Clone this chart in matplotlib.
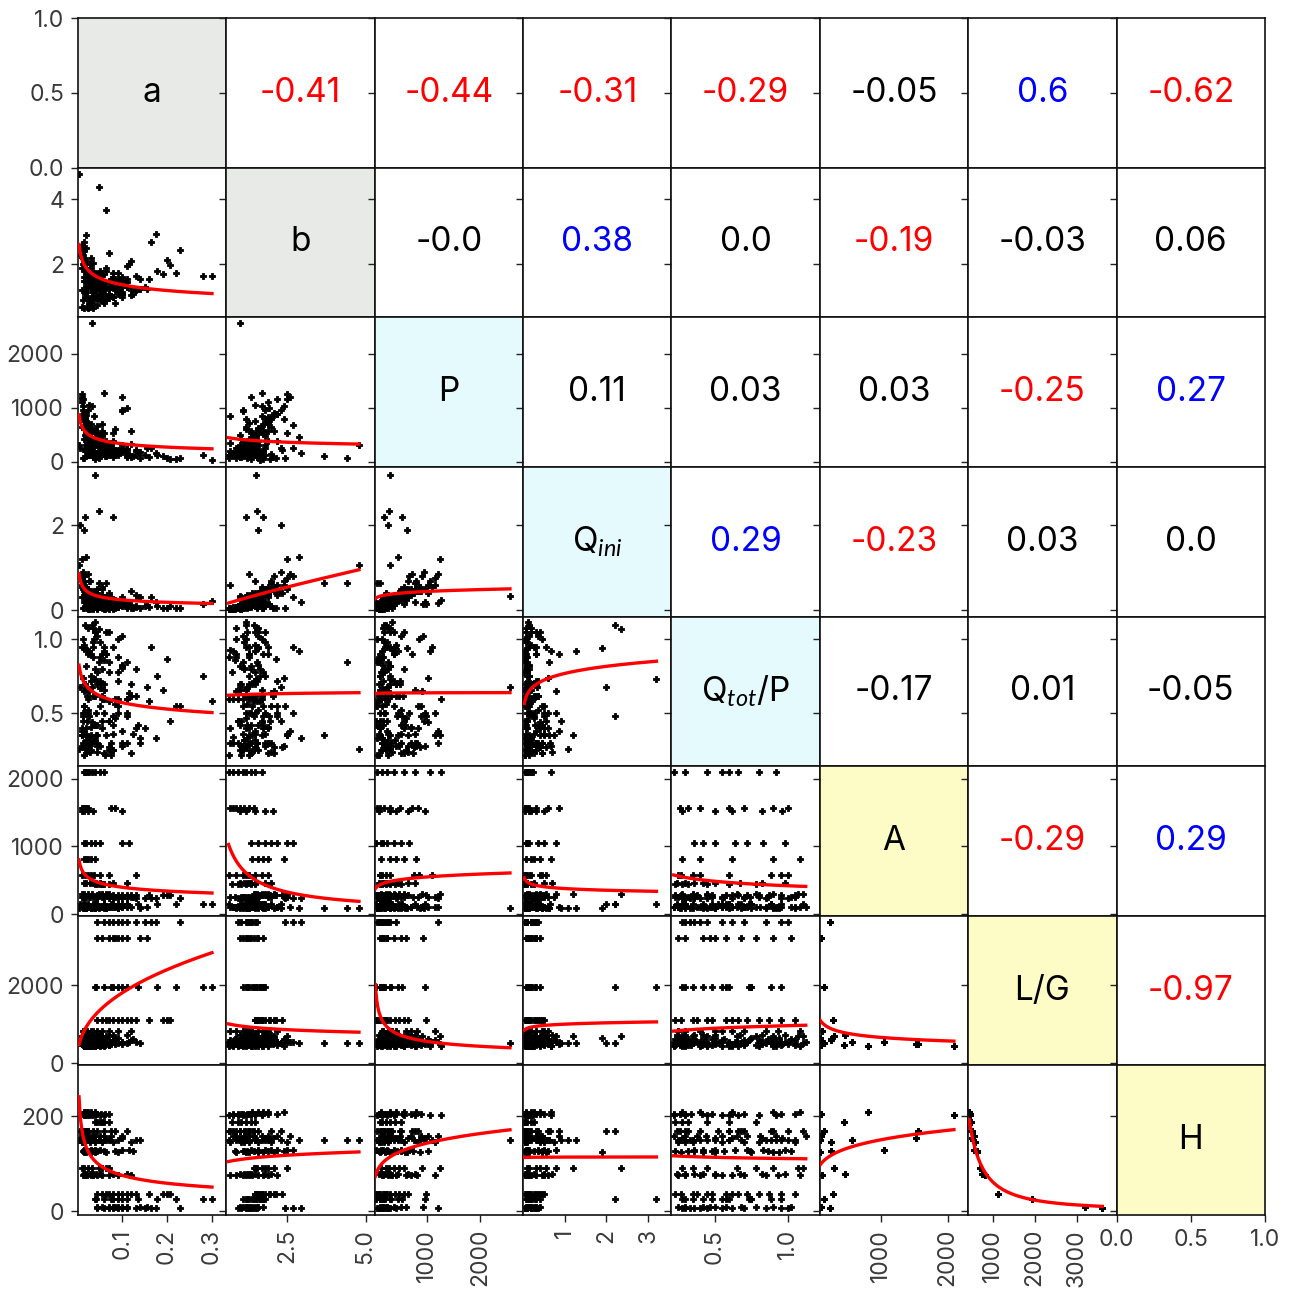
import numpy as np
import matplotlib
matplotlib.use('Agg')
import matplotlib.pyplot as plt

plt.rcParams['font.family'] = ['Inter', 'DejaVu Sans']
plt.rcParams['mathtext.fontset'] = 'custom'
plt.rcParams['mathtext.rm'] = 'Inter'
plt.rcParams['mathtext.it'] = 'Lato:italic'

names = ['a', 'b', 'P', r'Q$_{ini}$', r'Q$_{tot}$/P', 'A', 'L/G', 'H']

# catchment attributes (A, L/G, H) and number of events per catchment
catch_A = [235, 100, 150, 276, 111, 300, 460, 90, 100, 570, 450,
           810, 1045, 1560, 2095, 100, 145, 250, 246, 85, 1525]
catch_LG = [3609, 3210, 1949, 1124, 830, 700, 740, 530, 550, 545, 480,
            445, 560, 490, 455, 470, 520, 590, 620, 640, 510]
catch_H = [6, 8, 25, 37, 77, 91, 79, 150, 158, 149, 187,
           209, 130, 168, 202, 205, 168, 145, 126, 125, 154]
catch_n = [12, 10, 13, 14, 10, 8, 8, 11, 10, 8, 6, 5, 7, 7, 8, 10, 8, 7, 8, 6, 5]

# event values, grouped by catchment (same order as above)
a_vals = [
    0.043, 0.06, 0.07, 0.08, 0.09, 0.10, 0.11, 0.13, 0.15, 0.165, 0.175, 0.228,
    0.043, 0.055, 0.07, 0.08, 0.085, 0.09, 0.10, 0.11, 0.14, 0.155,
    0.039, 0.042, 0.06, 0.075, 0.08, 0.09, 0.1, 0.11, 0.135, 0.178, 0.22, 0.28, 0.3,
    0.045, 0.055, 0.065, 0.07, 0.08, 0.09, 0.1, 0.11, 0.12, 0.13, 0.16, 0.2, 0.206, 0.19,
    0.012, 0.018, 0.022, 0.03, 0.035, 0.045, 0.055, 0.07, 0.09, 0.12,
    0.01, 0.016, 0.025, 0.033, 0.048, 0.055, 0.065, 0.07,
    0.014, 0.02, 0.028, 0.035, 0.042, 0.05, 0.08, 0.11,
    0.004, 0.048, 0.065, 0.02, 0.033, 0.012, 0.03, 0.04, 0.06, 0.09, 0.14,
    0.01, 0.015, 0.02, 0.026, 0.033, 0.04, 0.05, 0.06, 0.075, 0.1,
    0.011, 0.018, 0.024, 0.03, 0.038, 0.05, 0.07, 0.13,
    0.04, 0.045, 0.05, 0.055, 0.06, 0.07,
    0.015, 0.02, 0.025, 0.03, 0.04,
    0.015, 0.02, 0.03, 0.04, 0.05, 0.1, 0.115,
    0.01, 0.013, 0.017, 0.02, 0.025, 0.075, 0.085,
    0.015, 0.018, 0.022, 0.027, 0.032, 0.04, 0.05, 0.06,
    0.013, 0.017, 0.021, 0.026, 0.031, 0.036, 0.043, 0.052, 0.062, 0.07,
    0.006, 0.018, 0.012, 0.024, 0.035, 0.045, 0.06, 0.11,
    0.01, 0.016, 0.028, 0.04, 0.055, 0.08, 0.12,
    0.012, 0.019, 0.027, 0.034, 0.045, 0.06, 0.085, 0.125,
    0.014, 0.02, 0.03, 0.04, 0.065, 0.09,
    0.011, 0.016, 0.023, 0.035, 0.1,
]
b_vals = [
    1.05, 1.4, 0.95, 1.5, 1.2, 1.35, 1.55, 1.25, 1.3, 2.7, 2.95, 2.45,
    1.6, 1.3, 1.45, 1.0, 1.2, 1.75, 1.1, 1.35, 1.55, 1.25,
    1.52, 1.4, 1.2, 1.55, 1.75, 1.3, 1.1, 1.45, 1.25, 1.8, 1.75, 1.65, 1.65,
    1.7, 1.5, 1.8, 2.35, 1.6, 1.55, 1.5, 1.95, 2.1, 1.65, 1.55, 2.15, 1.97, 1.7,
    2.2, 1.9, 0.7, 1.6, 0.9, 1.3, 1.75, 1.1, 1.4, 1.2,
    2.5, 2.1, 1.8, 1.45, 1.55, 1.7, 1.9, 1.5,
    1.8, 1.35, 2.0, 1.15, 1.5, 1.25, 1.0, 1.3,
    4.79, 4.4, 3.68, 2.9, 1.02, 2.3, 1.8, 1.5, 1.3, 1.1, 1.25,
    2.6, 2.2, 1.9, 0.9, 1.7, 1.2, 1.45, 0.8, 1.3, 1.15,
    1.9, 1.5, 0.65, 1.3, 1.7, 0.9, 1.1, 1.2,
    1.5, 0.75, 1.2, 0.95, 1.35, 1.05,
    2.4, 1.9, 1.6, 1.75, 1.4,
    2.7, 2.5, 2.2, 1.35, 1.8, 1.6, 2.0,
    0.7, 0.9, 1.0, 1.15, 1.3, 1.45, 0.8,
    0.65, 1.2, 0.95, 1.5, 0.8, 1.35, 1.1, 1.7,
    2.2, 1.1, 1.7, 0.8, 1.9, 1.3, 0.95, 1.5, 1.05, 1.25,
    2.3, 1.2, 2.0, 1.6, 0.65, 1.4, 1.0, 1.3,
    2.5, 2.0, 0.7, 1.6, 1.15, 1.3, 1.05,
    2.4, 1.9, 1.45, 1.15, 1.6, 0.85, 1.25, 1.1,
    1.6, 2.1, 1.3, 1.75, 0.9, 1.2,
    1.2, 1.5, 1.8, 2.05, 1.0,
]
P_vals = [
    420, 310, 180, 260, 150, 1200, 90, 210, 120, 250, 160, 60,
    520, 380, 240, 150, 600, 200, 930, 110, 180, 250,
    298, 450, 210, 330, 530, 180, 960, 140, 180, 120, 40, 120, 30,
    650, 480, 300, 220, 390, 170, 250, 990, 560, 200, 90, 60, 50, 110,
    1150, 820, 350, 600, 180, 420, 700, 260, 150, 330,
    1250, 900, 480, 230, 280, 560, 380, 140,
    780, 300, 640, 200, 450, 160, 90, 240,
    311, 60, 112, 447, 2560, 950, 520, 380, 200, 130, 60,
    1200, 880, 700, 260, 1020, 340, 500, 150, 270, 190,
    1100, 760, 120, 300, 850, 160, 230, 120,
    400, 150, 300, 220, 520, 120,
    790, 560, 300, 140, 420,
    670, 520, 380, 40, 250, 180, 140,
    840, 60, 500, 200, 720, 300, 120,
    60, 780, 250, 1050, 150, 570, 380, 1260,
    880, 230, 540, 120, 700, 310, 160, 410, 100, 190,
    260, 200, 780, 520, 130, 340, 170, 240,
    1150, 830, 200, 560, 260, 140, 90,
    1020, 740, 430, 270, 510, 140, 220, 100,
    630, 860, 310, 580, 120, 210,
    640, 420, 960, 90, 300,
]
Qini_vals = [
    0.3, 0.22, 0.1, 0.25, 0.08, 0.18, 0.05, 0.35, 0.1, 0.3, 0.2, 0.05,
    0.4, 0.3, 0.2, 0.06, 0.25, 0.1, 0.15, 0.2, 0.3, 0.12,
    3.2, 0.4, 0.15, 0.3, 2.2, 0.1, 0.2, 0.12, 0.28, 0.1, 0.06, 0.15, 0.22,
    0.5, 0.35, 0.2, 0.4, 0.25, 0.12, 0.3, 0.15, 0.45, 0.1, 0.08, 0.05, 0.1, 0.06,
    0.6, 0.45, 0.05, 0.3, 0.08, 0.18, 0.5, 0.1, 0.15, 0.12,
    1.2, 0.8, 0.4, 0.15, 2.35, 0.55, 0.3, 0.1,
    0.5, 0.1, 0.7, 0.06, 0.25, 0.08, 0.04, 0.1,
    1.07, 0.63, 0.63, 1.26, 0.33, 0.9, 0.45, 0.3, 0.15, 0.08, 0.05,
    0.85, 0.45, 0.35, 0.06, 0.4, 0.12, 0.3, 0.05, 0.15, 0.1,
    0.55, 0.4, 0.03, 0.15, 0.45, 0.07, 0.2, 0.08,
    0.2, 0.03, 0.1, 0.05, 0.25, 0.04,
    0.68, 0.4, 0.2, 0.06, 0.25,
    0.8, 0.5, 0.35, 0.08, 0.1, 0.15, 0.1,
    0.6, 0.05, 0.3, 0.1, 0.85, 0.15, 0.05,
    0.05, 0.2, 0.1, 0.68, 0.08, 0.15, 0.12, 0.23,
    0.5, 0.08, 0.3, 0.03, 0.4, 0.12, 0.05, 0.22, 0.04, 0.07,
    2.0, 2.2, 0.65, 0.35, 0.03, 0.2, 0.06, 0.1,
    0.75, 0.5, 0.04, 0.4, 0.1, 0.08, 0.05,
    0.6, 0.45, 0.25, 0.1, 0.35, 0.04, 0.12, 0.06,
    1.9, 0.55, 0.15, 0.45, 0.05, 0.1,
    0.3, 0.2, 0.5, 0.05, 0.15,
]
QtotP_vals = [
    0.28, 0.7, 0.45, 0.36, 1.0, 0.3, 0.85, 0.62, 0.4, 0.95, 0.33, 0.55,
    0.42, 0.9, 0.58, 0.25, 0.47, 0.78, 1.02, 0.5, 0.3, 0.68,
    0.73, 0.35, 0.95, 0.3, 0.48, 0.88, 0.28, 0.6, 0.42, 0.75, 0.55, 0.75, 0.58,
    0.35, 0.62, 1.05, 0.27, 0.95, 0.72, 0.38, 0.48, 0.23, 0.8, 0.58, 0.87, 0.45, 0.66,
    0.5, 0.3, 0.93, 0.25, 1.08, 0.7, 0.4, 0.85, 0.55, 0.62,
    0.35, 0.65, 0.28, 1.1, 1.07, 0.45, 0.9, 0.78,
    0.36, 0.82, 0.24, 0.98, 0.5, 0.67, 0.42, 0.3,
    0.26, 0.85, 0.35, 0.92, 0.68, 0.45, 0.3, 1.05, 0.5, 0.6, 0.33,
    0.38, 0.55, 0.3, 0.65, 0.44, 1.12, 0.72, 0.92, 0.22, 0.81,
    0.95, 0.27, 0.6, 0.35, 1.0, 0.88, 0.25, 0.4,
    0.32, 0.78, 0.28, 0.6, 0.23, 0.45,
    0.28, 0.4, 1.08, 0.9, 0.62,
    0.5, 0.36, 0.72, 0.42, 0.98, 0.83, 0.64,
    0.4, 1.0, 0.7, 0.32, 0.9, 0.26, 0.6,
    0.22, 0.66, 0.45, 0.92, 0.3, 0.8, 0.55, 0.6,
    0.48, 0.26, 0.62, 0.34, 0.41, 0.95, 0.3, 0.7, 0.22, 1.05,
    0.68, 1.1, 0.3, 0.52, 0.88, 0.24, 0.66, 0.6,
    0.35, 0.55, 0.3, 1.05, 0.8, 0.25, 0.7,
    0.74, 0.23, 0.48, 0.32, 1.02, 0.86, 0.56, 0.36,
    0.94, 0.27, 0.75, 0.42, 0.9, 0.5,
    0.28, 0.96, 0.5, 0.62, 0.82,
]

# power-law trend y = c * x**k for each lower panel (row by row, left to right)
fit_c = [
    [],
    [0.866],
    [165, 413],
    [0.0988, 0.246, 0.173],
    [0.440, 0.626, 0.63, 0.77],
    [239, 712, 260, 377, 418],
    [4645, 962, 6926, 1006, 967, 2844],
    [33.0, 108.8, 38.6, 114, 110.9, 43.7, 9.83e5],
]
fit_k = [
    [],
    [-0.2],
    [-0.3, -0.155],
    [-0.392, 0.865, 0.136],
    [-0.114, 0.0137, 0.002, 0.0875],
    [-0.219, -0.85, 0.108, -0.099, -0.213],
    [0.41, -0.1175, -0.363, 0.048, 0.1026, -0.21],
    [-0.36, 0.088, 0.19, 0.002, -0.0335, 0.179, -1.4],
]

# upper-triangle correlation coefficients, row by row
corr_upper = [
    [-0.41, -0.44, -0.31, -0.29, -0.05, 0.6, -0.62],
    [-0.0, 0.38, 0.0, -0.19, -0.03, 0.06],
    [0.11, 0.03, 0.03, -0.25, 0.27],
    [0.29, -0.23, 0.03, 0.0],
    [-0.17, 0.01, -0.05],
    [-0.29, 0.29],
    [-0.97],
]

# axis ranges and ticks per variable (rows = y, columns = x)
row_lims = [(0, 1), (0.37, 4.98), (-99, 2670), (-0.15, 3.38),
            (0.142, 1.155), (-25, 2182), (-51, 3780), (-8, 307)]
col_lims = [(0.0016, 0.332), (0.58, 5.29), (17, 2807), (0.0, 3.56),
            (0.205, 1.216), (85, 2309), (419, 3952), (0, 1)]
row_ticks = [[0, 0.5, 1.0], [2, 4], [0, 1000, 2000], [0, 2],
             [0.5, 1.0], [0, 1000, 2000], [0, 2000], [0, 200]]
col_ticks = [[0.1, 0.2, 0.3], [2.5, 5.0], [1000, 2000], [1, 2, 3],
             [0.5, 1.0], [1000, 2000], [1000, 2000, 3000], [0, 0.5, 1.0]]

diag_colors = ['#e8eae8', '#e8eae8', '#e4fafc', '#e4fafc', '#e4fafc',
               '#fdfcc6', '#fdfcc6', '#fdfcc6']

data = [
    np.array(a_vals), np.array(b_vals), np.array(P_vals, float),
    np.array(Qini_vals), np.array(QtotP_vals),
    np.repeat(catch_A, catch_n).astype(float),
    np.repeat(catch_LG, catch_n).astype(float),
    np.repeat(catch_H, catch_n).astype(float),
]
n = len(names)

fig, axes = plt.subplots(n, n, figsize=(12.93, 12.90), dpi=100,
                         sharex='col', sharey='row')
fig.subplots_adjust(left=0.0603, right=0.9783, top=0.986, bottom=0.0581,
                    wspace=0, hspace=0)

for j in range(n):
    axes[0, j].set_xlim(col_lims[j])
    axes[-1, j].set_xticks(col_ticks[j])
for i in range(n):
    axes[i, 0].set_ylim(row_lims[i])
    axes[i, 0].set_yticks(row_ticks[i])

for i in range(n):
    for j in range(n):
        ax = axes[i, j]
        for sp in ax.spines.values():
            sp.set_linewidth(1.2)
            sp.set_color('#111111')
        ax.tick_params(direction='out', length=5, width=1.0, color='#222222',
                       labelsize=16.5, labelcolor='#3a3a3a', pad=5)
        if i < n - 1:
            ax.tick_params(axis='x', bottom=False)
        elif j < n - 1:
            ax.tick_params(axis='x', labelrotation=90)

        if i > j:
            x, y = data[j], data[i]
            ax.scatter(x, y, s=16, marker='P', c='black', edgecolors='black',
                       linewidths=0.6, zorder=2)
            xs = np.linspace(x.min(), x.max(), 300)
            ax.plot(xs, fit_c[i][j] * xs ** fit_k[i][j], color='red', lw=2.4,
                    zorder=3)
        elif i == j:
            ax.set_facecolor(diag_colors[i])
            ax.text(0.5, 0.5, names[i], transform=ax.transAxes,
                    ha='center', va='center', fontsize=24, color='black')
        else:
            r = corr_upper[i][j - i - 1]
            col = 'red' if r <= -0.18 else ('blue' if r >= 0.18 else 'black')
            ax.text(0.5, 0.5, str(r), transform=ax.transAxes,
                    ha='center', va='center', fontsize=24, color=col)

fig.savefig('out.png', dpi=100)
